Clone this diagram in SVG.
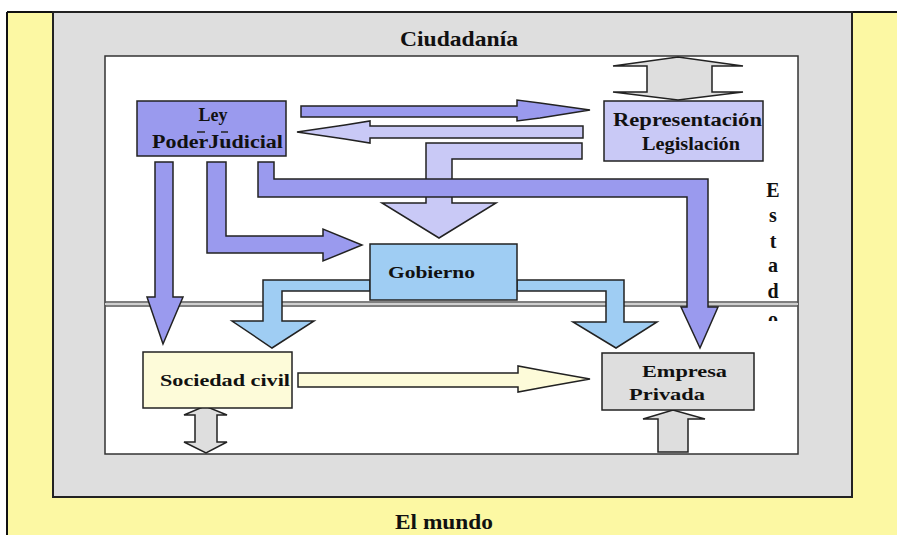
<svg xmlns="http://www.w3.org/2000/svg" width="897" height="535" viewBox="0 0 897 535">
<style>
.box{stroke:#222;stroke-width:1.5;}
.arr{stroke:#222;stroke-width:1.5;stroke-linejoin:miter;}
.dark{fill:#9a9aee;}
.light{fill:#c9c9f6;}
.blue{fill:#9fcdf3;}
.grey{fill:#dedede;}
.cream{fill:#fdfbd9;}
</style>
<defs>
<clipPath id="estclip"><rect x="740" y="170" width="60" height="151"/></clipPath>
</defs>
<!-- frame -->
<rect x="0" y="0" width="897" height="535" fill="#ffffff"/>
<rect x="7" y="12" width="890" height="523" fill="#fcf8a3"/>
<line x1="7" y1="12" x2="897" y2="12" stroke="#111" stroke-width="2"/>
<line x1="7" y1="12" x2="7" y2="535" stroke="#111" stroke-width="2"/>
<rect x="53" y="12" width="799" height="485" fill="#dedede" stroke="#222" stroke-width="2"/>
<rect x="105" y="56" width="693" height="398" fill="#ffffff" stroke="#333" stroke-width="1.5"/>
<line x1="105" y1="302" x2="798" y2="302" stroke="#555" stroke-width="1.5"/>
<line x1="105" y1="306" x2="798" y2="306" stroke="#555" stroke-width="1.5"/>
<rect x="105" y="303" width="693" height="2" fill="#cfcfcf"/>
<g font-family="'Liberation Serif', 'DejaVu Serif', serif" font-weight="bold" fill="#111">
<text x="400" y="46" font-size="21" textLength="118" lengthAdjust="spacingAndGlyphs">Ciudadanía</text>
<text x="395" y="529" font-size="20" textLength="98" lengthAdjust="spacingAndGlyphs">El mundo</text>
<g id="estado" clip-path="url(#estclip)">
<text x="773" y="197" font-size="20" text-anchor="middle">E</text>
<text x="773" y="222" font-size="20" text-anchor="middle">s</text>
<text x="773" y="248" font-size="20" text-anchor="middle">t</text>
<text x="773" y="272" font-size="20" text-anchor="middle">a</text>
<text x="773" y="298" font-size="20" text-anchor="middle">d</text>
<text x="773" y="326" font-size="20" text-anchor="middle">o</text>
</g>
</g>
<!-- connectors -->
<g id="connectors">
<polygon class="arr dark" points="301,106 517,106 517,100 540,103 590,110 540,118 517,121 517,117 301,117"/>
<polygon class="arr light" points="583,126 370,126 370,121 345,125 297,132 345,139 370,143 370,138 583,138"/>
<polygon class="arr light" points="582,143 426,143 426,203 382,203 439,238 496,203 452,203 452,159 582,159"/>
<polygon class="arr dark" points="258,162 274,162 274,179 708,179 708,307 718,307 700,348 681,307 687,307 687,197 258,197"/>
<polygon class="arr dark" points="207,162 226,162 226,236 323,236 323,229 362,245 323,261 323,253 207,253"/>
<polygon class="arr dark" points="155,162 173,162 173,297 183,297 163,344 147,297 155,297"/>
<polygon class="arr blue" points="370,280 263,280 263,321 232,321 272,348 314,321 282,321 282,291 370,291"/>
<polygon class="arr blue" points="517,280 624,280 624,322 657,322 616,348 573,322 606,322 606,291 517,291"/>
<polygon class="arr cream" points="298,373 518,373 518,366 545,371 590,379 545,387 518,392 518,387 298,387"/>
<polygon class="arr grey" points="647,66 613,66 678,57 743,66 712,66 712,92 743,92 678,100 613,92 647,92"/>
<polygon class="arr grey" points="195,415 184,415 205,406 227,415 217,415 217,442 227,442 206,453 184,442 195,442"/>
<polygon class="arr grey" points="658,452 658,419 643,419 673,410 705,419 688,419 688,452"/>
</g>
<!-- nodes -->
<g font-family="'Liberation Serif', 'DejaVu Serif', serif" font-weight="bold" fill="#111">
<g id="ley">
<rect class="box dark" x="137" y="101" width="149" height="55"/>
<text x="213" y="121" font-size="18" text-anchor="middle" fill="#111">Ley</text>
<line x1="197" y1="132" x2="205" y2="132" stroke="#222" stroke-width="1.5"/>
<line x1="221" y1="132" x2="228" y2="132" stroke="#222" stroke-width="1.5"/>
<text x="152" y="148" font-size="18" textLength="131" lengthAdjust="spacingAndGlyphs" fill="#111">PoderJudicial</text>
</g>
<g id="representacion">
<rect class="box light" x="604" y="101" width="159" height="60"/>
<text x="613" y="126" font-size="18" textLength="149" lengthAdjust="spacingAndGlyphs" fill="#111">Representación</text>
<text x="642" y="150" font-size="18" textLength="98" lengthAdjust="spacingAndGlyphs" fill="#111">Legislación</text>
</g>
<g id="gobierno">
<rect class="box blue" x="370" y="244" width="147" height="56"/>
<text x="388" y="278" font-size="16" textLength="87" lengthAdjust="spacingAndGlyphs" fill="#111">Gobierno</text>
</g>
<g id="sociedad">
<rect class="box cream" x="143" y="352" width="149" height="56"/>
<text x="160" y="386" font-size="17" textLength="130" lengthAdjust="spacingAndGlyphs" fill="#111">Sociedad civil</text>
</g>
<g id="empresa">
<rect class="box grey" x="602" y="353" width="152" height="57"/>
<text x="642" y="377" font-size="17" textLength="85" lengthAdjust="spacingAndGlyphs" fill="#111">Empresa</text>
<text x="629" y="400" font-size="17" textLength="76" lengthAdjust="spacingAndGlyphs" fill="#111">Privada</text>
</g>
</g>
</svg>
